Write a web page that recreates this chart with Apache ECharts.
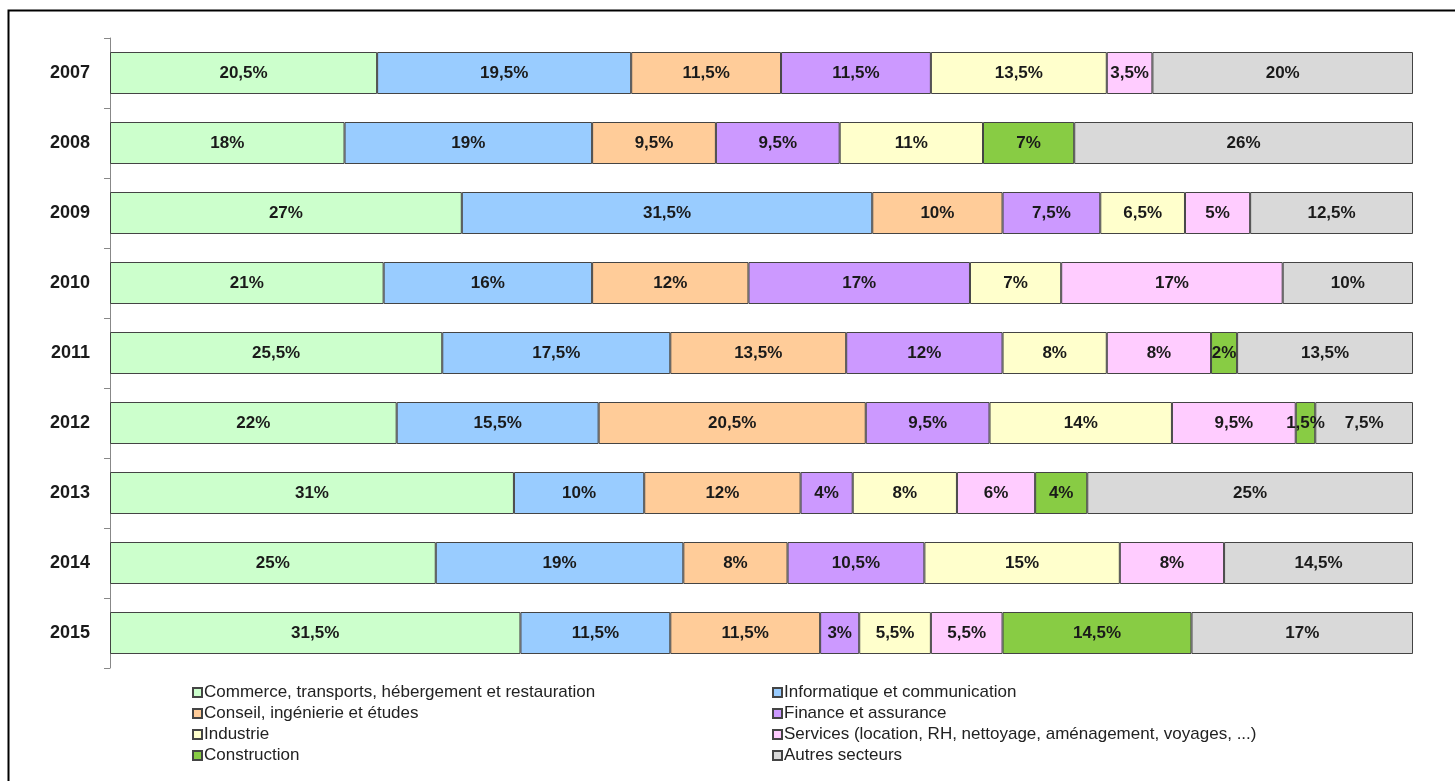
<!DOCTYPE html>
<html>
<head>
<meta charset="utf-8">
<script src="https://cdn.jsdelivr.net/npm/echarts@6/dist/echarts.min.js"></script>
<style>html,body{margin:0;padding:0;background:#fff}#c{width:1455px;height:781px}</style>
</head>
<body>
<div id="c"></div>
<script>
const years = ['2007','2008','2009','2010','2011','2012','2013','2014','2015'];
const seriesNames = [
  'Commerce, transports, hébergement et restauration',
  'Informatique et communication',
  'Conseil, ingénierie et études',
  'Finance et assurance',
  'Industrie',
  'Services (location, RH, nettoyage, aménagement, voyages, ...)',
  'Construction',
  'Autres secteurs'
];
const commerce     = [20.5, 18, 27, 21, 25.5, 22, 31, 25, 31.5];
const informatique = [19.5, 19, 31.5, 16, 17.5, 15.5, 10, 19, 11.5];
const conseil      = [11.5, 9.5, 10, 12, 13.5, 20.5, 12, 8, 11.5];
const finance      = [11.5, 9.5, 7.5, 17, 12, 9.5, 4, 10.5, 3];
const industrie    = [13.5, 11, 6.5, 7, 8, 14, 8, 15, 5.5];
const services     = [3.5, 0, 5, 17, 8, 9.5, 6, 8, 5.5];
const construction = [0, 7, 0, 0, 2, 1.5, 4, 0, 14.5];
const autres       = [20, 26, 12.5, 10, 13.5, 7.5, 25, 14.5, 17];
const seriesValues = [commerce, informatique, conseil, finance, industrie, services, construction, autres];
const colors = ['#CCFFCC','#99CCFF','#FFCC99','#CC99FF','#FFFFCC','#FFCCFF','#88CC44','#D9D9D9'];

const fmt = v => String(v).replace('.', ',') + '%';
const FONT = 'Liberation Sans, Arial, sans-serif';

const series = seriesNames.map((name, i) => ({
  name: name,
  type: 'bar',
  stack: 'total',
  barWidth: '60%',
  data: seriesValues[i].map(v => v === 0 ? '-' : v),
  itemStyle: { color: colors[i], borderColor: '#444', borderWidth: 1 },
  label: {
    show: true,
    position: 'inside',
    formatter: p => fmt(p.value),
    fontFamily: FONT,
    fontWeight: 'bold',
    fontSize: 17,
    color: '#1a1a1a'
  },
  emphasis: { disabled: true }
}));

const legendText = { fontSize: 17, color: '#222', fontFamily: FONT, padding: [0, 0, 0, -3] };

const chart = echarts.init(document.getElementById('c'), null, { renderer: 'canvas' });
chart.setOption({
  animation: false,
  backgroundColor: '#fff',
  textStyle: { fontFamily: FONT },
  grid: { left: 110, right: 42, top: 38, height: 630 },
  xAxis: { type: 'value', min: 0, max: 100, show: false },
  yAxis: {
    type: 'category',
    data: years,
    inverse: true,
    axisLine: { show: true, lineStyle: { color: '#888', width: 1 } },
    axisTick: { show: true, inside: false, length: 6, lineStyle: { color: '#888' } },
    axisLabel: { fontWeight: 'bold', fontSize: 18, color: '#1a1a1a', margin: 20, fontFamily: FONT },
    splitLine: { show: false }
  },
  legend: [
    {
      orient: 'vertical', left: 187, top: 679, itemGap: 4,
      itemWidth: 9, itemHeight: 9, icon: 'rect',
      textStyle: legendText,
      data: [seriesNames[0], seriesNames[2], seriesNames[4], seriesNames[6]],
      selectedMode: false
    },
    {
      orient: 'vertical', left: 767, top: 679, itemGap: 4,
      itemWidth: 9, itemHeight: 9, icon: 'rect',
      textStyle: legendText,
      data: [seriesNames[1], seriesNames[3], seriesNames[5], seriesNames[7]],
      selectedMode: false
    }
  ],
  graphic: [
    { type: 'polyline', shape: { points: [[8.5, 800], [8.5, 10.5], [1460, 10.5]] }, style: { stroke: '#000', lineWidth: 2, fill: null } }
  ],
  series: series
});
</script>
</body>
</html>
